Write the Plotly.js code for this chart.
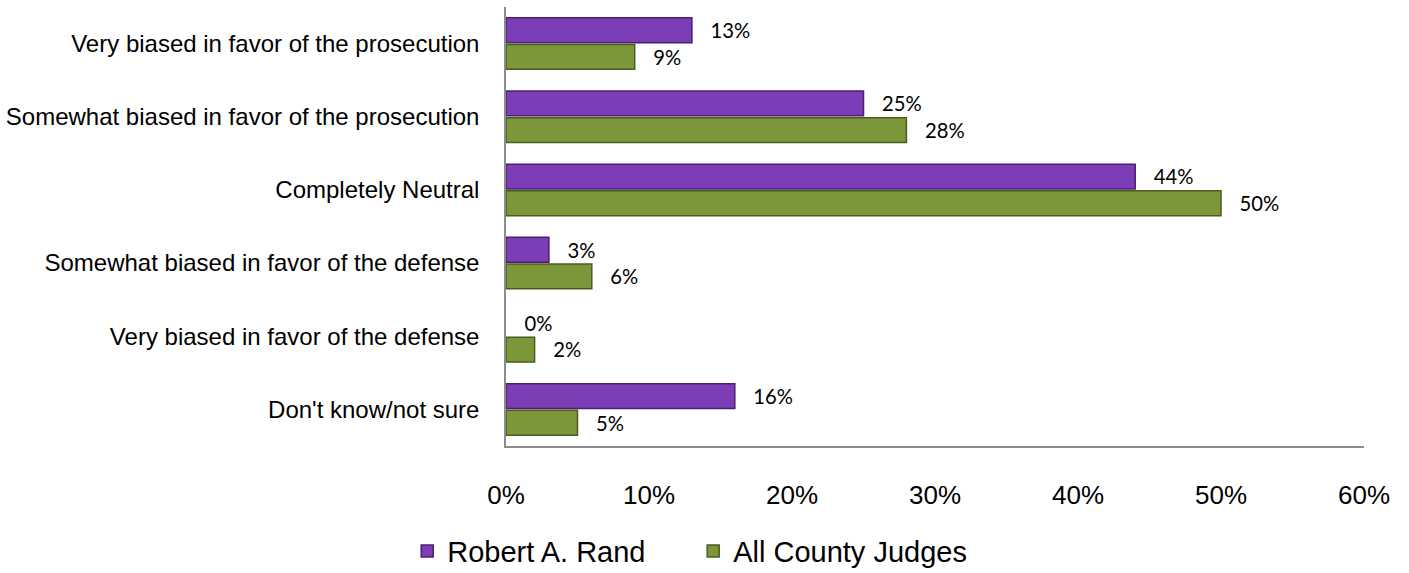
<!DOCTYPE html>
<html><head><meta charset="utf-8">
<script src="https://cdn.plot.ly/plotly-3.0.1.min.js"></script>
<style>html,body{margin:0;padding:0;background:#fff}#chart{width:1409px;height:573px}</style>
</head><body><div id="chart"></div>
<script>
const categories = [
  "Very biased in favor of the prosecution",
  "Somewhat biased in favor of the prosecution",
  "Completely Neutral",
  "Somewhat biased in favor of the defense",
  "Very biased in favor of the defense",
  "Don't know/not sure"
];
const randValues = [13, 25, 44, 3, 0, 16];
const judgesValues = [9, 28, 50, 6, 2, 5];
const seriesNames = ["Robert A. Rand", "All County Judges"];
const tickValues = [0, 10, 20, 30, 40, 50, 60];
const tickLabels = ["0%", "10%", "20%", "30%", "40%", "50%", "60%"];

function mk(name, vals, fill, edge) {
  return {
    type: 'bar', orientation: 'h', name: name,
    y: categories, x: vals,
    text: vals.map(v => '   ' + v + '%'),
    textposition: 'outside', cliponaxis: false,
    textfont: {family: 'Lato, "Open Sans", sans-serif', size: 22, color: '#000'},
    marker: {color: fill, line: {color: edge, width: vals.map(v => v > 0 ? 1.5 : 0)}},
    hoverinfo: 'x+y'
  };
}
const data = [
  mk(seriesNames[0], randValues, '#7d3db6', '#4a1f70'),
  mk(seriesNames[1], judgesValues, '#7b973a', '#4b5c22')
];
const layout = {
  width: 1409, height: 573,
  margin: {l: 506, r: 45, t: 7, b: 127},
  paper_bgcolor: '#fff', plot_bgcolor: '#fff',
  barmode: 'group', bargap: 0.27, bargroupgap: 0.07,
  showlegend: true,
  legend: {orientation: 'h', xref: 'container', yref: 'container', x: 0.289, y: 0.038,
           xanchor: 'left', yanchor: 'middle',
           font: {family: 'Arial, "Liberation Sans", sans-serif', size: 29, color: '#000'},
           itemwidth: 30, entrywidth: 241, entrywidthmode: 'pixels', tracegroupgap: 0},
  xaxis: {range: [0, 60], tickvals: tickValues, ticktext: tickLabels,
          showgrid: false, zeroline: false, showline: true, linecolor: '#8c8c8c', linewidth: 1.5,
          ticks: '', ticklabelstandoff: 25,
          tickfont: {family: 'Arial, "Liberation Sans", sans-serif', size: 26, color: '#000'}},
  yaxis: {autorange: 'reversed', showgrid: false, zeroline: false, showline: true,
          linecolor: '#8c8c8c', linewidth: 1.5, ticks: '', ticklabelstandoff: 20,
          tickfont: {family: 'Arial, "Liberation Sans", sans-serif', size: 24, color: '#000'}}
};
Plotly.newPlot('chart', data, layout, {displayModeBar: false});
</script></body></html>
